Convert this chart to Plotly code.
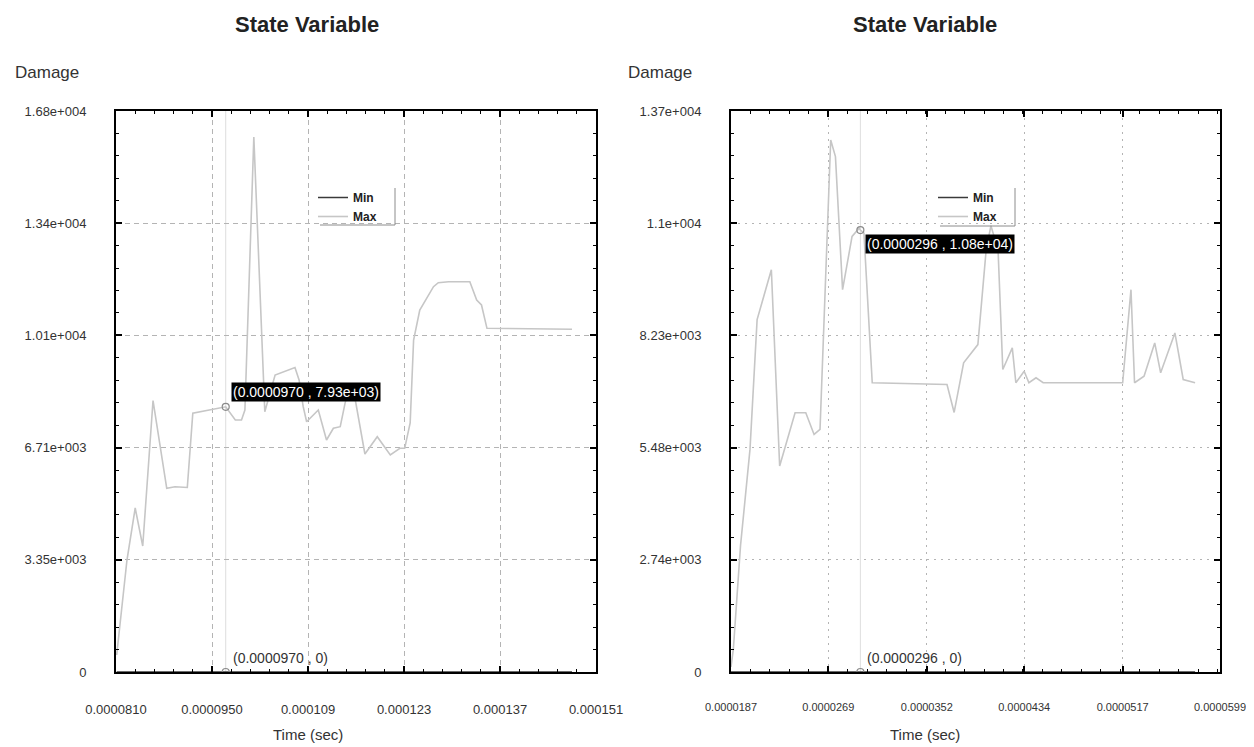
import plotly.graph_objects as go

W, H = 1254, 747
OFF = 8                     # the page body adds an 8px margin; compensate for it
FW, FH = W - OFF, H - OFF   # figure size

# ---------------- data ----------------
left_time = [0.0000811, 0.0000826, 0.0000838, 0.0000849, 0.0000864, 0.0000884, 0.0000896,
             0.0000914, 0.0000922, 0.0000970, 0.0000984, 0.0000993, 0.0000998, 0.0001011,
             0.0001027, 0.0001042, 0.0001071, 0.0001077, 0.0001083, 0.0001088, 0.0001105,
             0.0001117, 0.0001127, 0.0001137, 0.0001144, 0.0001151, 0.0001159, 0.0001173,
             0.0001191, 0.0001210, 0.0001224, 0.0001231, 0.0001239, 0.0001244, 0.0001253,
             0.0001273, 0.0001280, 0.0001295, 0.0001326, 0.0001336, 0.0001343, 0.0001351,
             0.0001475]
left_max = [508, 3349, 4904, 3768, 8118, 5493, 5541, 5517, 7736, 7930, 7535, 7535, 7834,
            15998, 7783, 8881, 9105, 8731, 7933, 7484, 7834, 6937, 7287, 7335, 8034, 8582,
            8133, 6519, 7036, 6489, 6689, 6689, 7446, 9927, 10824, 11521, 11641, 11671,
            11671, 11124, 10974, 10277, 10248]
left_min = [0] * len(left_time)

right_time = [0.0000187, 0.0000189, 0.0000195, 0.0000203, 0.0000209, 0.0000221, 0.0000228,
              0.0000241, 0.0000250, 0.0000257, 0.0000262, 0.0000271, 0.0000275, 0.0000281,
              0.0000289, 0.0000295, 0.0000296, 0.0000299, 0.0000306, 0.0000369, 0.0000375,
              0.0000383, 0.0000395, 0.0000402, 0.0000406, 0.0000412, 0.0000416, 0.0000424,
              0.0000427, 0.0000434, 0.0000438, 0.0000444, 0.0000450, 0.0000517, 0.0000524,
              0.0000527, 0.0000535, 0.0000544, 0.0000549, 0.0000561, 0.0000568, 0.0000578]
right_max = [122, 561, 3081, 5440, 8611, 9831, 5033, 6335, 6335, 5806, 5928, 13003, 12595,
             9343, 10644, 10848, 10800, 10727, 7068, 7026, 6343, 7555, 8002, 10319, 10905,
             10319, 7392, 7921, 7068, 7350, 7068, 7189, 7068, 7068, 9343, 7068, 7228, 8043,
             7311, 8287, 7148, 7068]
right_min = [0] * len(right_time)

left_xticks = [0.0000810, 0.0000950, 0.000109, 0.000123, 0.000137, 0.000151]
left_xlabels = ["0.0000810", "0.0000950", "0.000109", "0.000123", "0.000137", "0.000151"]
left_yticks = [0, 3355, 6710, 10065, 13420, 16775]
left_ylabels = ["0", "3.35e+003", "6.71e+003", "1.01e+004", "1.34e+004", "1.68e+004"]

right_xticks = [0.0000187, 0.0000269, 0.0000352, 0.0000434, 0.0000517, 0.0000599]
right_xlabels = ["0.0000187", "0.0000269", "0.0000352", "0.0000434", "0.0000517", "0.0000599"]
right_yticks = [0, 2742, 5484, 8226, 10968, 13710]
right_ylabels = ["0", "2.74e+003", "5.48e+003", "8.23e+003", "1.1e+004", "1.37e+004"]

left_cursor = (0.0000970, 7930)
left_cursor_text = "(0.0000970 , 7.93e+03)"
left_cursor_min_text = "(0.0000970 , 0)"
right_cursor = (0.0000296, 10800)
right_cursor_text = "(0.0000296 , 1.08e+04)"
right_cursor_min_text = "(0.0000296 , 0)"

# ---------------- styling ----------------
FONT = "Liberation Sans, Arial, sans-serif"
MAX_COLOR = "#c6c6c6"
MIN_COLOR = "#3a3a3a"


def px(x):
    return (x - OFF) / FW


def py(y):
    return 1 - (y - OFF) / FH


fig = go.Figure()

# left panel traces
fig.add_trace(go.Scatter(x=left_time, y=left_min, mode="lines", name="Min",
                         line=dict(color=MIN_COLOR, width=1.5), xaxis="x", yaxis="y",
                         legend="legend"))
fig.add_trace(go.Scatter(x=left_time, y=left_max, mode="lines", name="Max",
                         line=dict(color=MAX_COLOR, width=1.6), xaxis="x", yaxis="y",
                         legend="legend"))
fig.add_trace(go.Scatter(x=[left_cursor[0], left_cursor[0]], y=[left_cursor[1], 0],
                         mode="markers", showlegend=False, xaxis="x", yaxis="y",
                         marker=dict(symbol="circle-open", size=7, color="#8a8a8a",
                                     line=dict(width=1.2))))

# right panel traces
fig.add_trace(go.Scatter(x=right_time, y=right_min, mode="lines", name="Min",
                         line=dict(color=MIN_COLOR, width=1.5), xaxis="x2", yaxis="y2",
                         legend="legend2"))
fig.add_trace(go.Scatter(x=right_time, y=right_max, mode="lines", name="Max",
                         line=dict(color=MAX_COLOR, width=1.6), xaxis="x2", yaxis="y2",
                         legend="legend2"))
fig.add_trace(go.Scatter(x=[right_cursor[0], right_cursor[0]], y=[right_cursor[1], 0],
                         mode="markers", showlegend=False, xaxis="x2", yaxis="y2",
                         marker=dict(symbol="circle-open", size=7, color="#8a8a8a",
                                     line=dict(width=1.2))))


def xaxis_cfg(domain, ticks, labels, dash, anchor, fsize):
    step = ticks[1] - ticks[0]
    return dict(domain=domain, range=[ticks[0], ticks[-1]], tickvals=ticks, ticktext=labels,
                ticks="inside", ticklen=6, tickwidth=2, tickcolor="black",
                showline=True, linewidth=2, linecolor="black", mirror="ticks",
                showgrid=True, gridcolor="#b4b4b4", gridwidth=1, griddash=dash,
                zeroline=False, anchor=anchor, automargin=False,
                minor=dict(tick0=ticks[0], dtick=step / 5, ticks="inside", ticklen=3,
                           tickwidth=1, tickcolor="black", showgrid=False),
                tickfont=dict(family=FONT, size=fsize, color="#333"),
                ticklabelstandoff=24)


def yaxis_cfg(domain, ticks, labels, dash, anchor):
    step = ticks[1] - ticks[0]
    return dict(domain=domain, range=[ticks[0], ticks[-1]], tickvals=ticks, ticktext=labels,
                ticks="inside", ticklen=6, tickwidth=2, tickcolor="black",
                showline=True, linewidth=2, linecolor="black", mirror="ticks",
                showgrid=True, gridcolor="#b4b4b4", gridwidth=1, griddash=dash,
                zeroline=False, anchor=anchor, automargin=False,
                minor=dict(tick0=0, dtick=step / 5, ticks="inside", ticklen=3,
                           tickwidth=1, tickcolor="black", showgrid=False),
                tickfont=dict(family=FONT, size=13, color="#333"),
                ticklabelstandoff=25)


left_dom_x = [px(116), px(596)]
right_dom_x = [px(731), px(1220)]
dom_y = [py(672), py(111)]

annotations = [
    dict(text="State Variable", x=px(307), y=py(25), xref="paper", yref="paper",
         xanchor="center", yanchor="middle", showarrow=False,
         font=dict(family=FONT, size=22, color="#222", weight="bold")),
    dict(text="State Variable", x=px(925), y=py(25), xref="paper", yref="paper",
         xanchor="center", yanchor="middle", showarrow=False,
         font=dict(family=FONT, size=22, color="#222", weight="bold")),
    dict(text="Damage", x=px(13), y=py(72), xref="paper", yref="paper", xanchor="left",
         yanchor="middle", showarrow=False, font=dict(family=FONT, size=17, color="#333")),
    dict(text="Damage", x=px(626), y=py(72), xref="paper", yref="paper", xanchor="left",
         yanchor="middle", showarrow=False, font=dict(family=FONT, size=17, color="#333")),
    dict(text="Time (sec)", x=px(308), y=py(734), xref="paper", yref="paper",
         xanchor="center", yanchor="middle", showarrow=False,
         font=dict(family=FONT, size=15, color="#333")),
    dict(text="Time (sec)", x=px(925), y=py(734), xref="paper", yref="paper",
         xanchor="center", yanchor="middle", showarrow=False,
         font=dict(family=FONT, size=15, color="#333")),
    # cursor read-outs
    dict(text=left_cursor_text, x=left_cursor[0], y=left_cursor[1], xref="x", yref="y",
         xanchor="left", yanchor="bottom", xshift=5, yshift=5, showarrow=False,
         bgcolor="black", borderpad=1, font=dict(family=FONT, size=14, color="white")),
    dict(text=left_cursor_min_text, x=left_cursor[0], y=0, xref="x", yref="y",
         xanchor="left", yanchor="bottom", xshift=5, yshift=4, showarrow=False,
         font=dict(family=FONT, size=14, color="#333")),
    dict(text=right_cursor_text, x=right_cursor[0], y=right_cursor[1], xref="x2", yref="y2",
         xanchor="left", yanchor="top", xshift=5, yshift=-4, showarrow=False,
         bgcolor="black", borderpad=1, font=dict(family=FONT, size=14, color="white")),
    dict(text=right_cursor_min_text, x=right_cursor[0], y=0, xref="x2", yref="y2",
         xanchor="left", yanchor="bottom", xshift=5, yshift=4, showarrow=False,
         font=dict(family=FONT, size=14, color="#333")),
]

shapes = [
    # cursor lines
    dict(type="line", xref="x", yref="y domain", x0=left_cursor[0], x1=left_cursor[0],
         y0=0, y1=1, line=dict(color="#dedede", width=1), layer="below"),
    dict(type="line", xref="x2", yref="y2 domain", x0=right_cursor[0], x1=right_cursor[0],
         y0=0, y1=1, line=dict(color="#dedede", width=1), layer="below"),
    # legend frame edges
    dict(type="line", xref="paper", yref="paper", x0=px(395), x1=px(395), y0=py(188),
         y1=py(225), line=dict(color="#8c8c8c", width=1)),
    dict(type="line", xref="paper", yref="paper", x0=px(320), x1=px(395), y0=py(225),
         y1=py(225), line=dict(color="#8c8c8c", width=1)),
    dict(type="line", xref="paper", yref="paper", x0=px(1015), x1=px(1015), y0=py(188),
         y1=py(226), line=dict(color="#8c8c8c", width=1)),
    dict(type="line", xref="paper", yref="paper", x0=px(940), x1=px(1015), y0=py(226),
         y1=py(226), line=dict(color="#8c8c8c", width=1)),
]

legend_style = dict(bgcolor="rgba(255,255,255,0)", borderwidth=0, itemwidth=30,
                    tracegroupgap=0, xanchor="left", yanchor="top",
                    font=dict(family=FONT, size=12, color="#222", weight="bold"))

fig.update_layout(
    template="none",
    width=FW, height=FH,
    margin=dict(l=0, r=0, t=0, b=0, autoexpand=False),
    paper_bgcolor="white", plot_bgcolor="white",
    xaxis=xaxis_cfg(left_dom_x, left_xticks, left_xlabels, "5px,4px", "y", 13),
    yaxis=yaxis_cfg(dom_y, left_yticks, left_ylabels, "5px,4px", "x"),
    xaxis2=xaxis_cfg(right_dom_x, right_xticks, right_xlabels, "2px,5px", "y2", 11),
    yaxis2=yaxis_cfg(dom_y, right_yticks, right_ylabels, "2px,5px", "x2"),
    legend=dict(x=px(313), y=py(183), **legend_style),
    legend2=dict(x=px(933), y=py(183), **legend_style),
    annotations=annotations,
    shapes=shapes,
    showlegend=True,
)

fig.write_html("out.html")
